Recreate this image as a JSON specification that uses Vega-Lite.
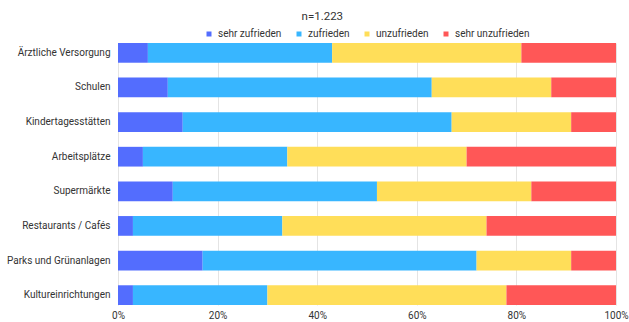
{
  "$schema": "https://vega.github.io/schema/vega-lite/v6.json",
  "width": 498,
  "height": 262,
  "autosize": {"type": "none"},
  "padding": {"left": 118, "top": 43, "right": 13, "bottom": 17},
  "background": "white",
  "title": {"text": "n=1.223", "anchor": "middle", "frame": "bounds", "fontSize": 11.5, "font": "Roboto", "fontWeight": "normal", "color": "#333333", "offset": 7, "dx": 5},
  "config": {"view": {"stroke": null}, "font": "Roboto", "legend": {"layout": {"top": {"anchor": "middle"}}}},
  "data": {"values": [
    {"Bereich": "Ärztliche Versorgung", "Bewertung": "sehr zufrieden", "Rang": 1, "Anteil": 0.06},
    {"Bereich": "Ärztliche Versorgung", "Bewertung": "zufrieden", "Rang": 2, "Anteil": 0.37},
    {"Bereich": "Ärztliche Versorgung", "Bewertung": "unzufrieden", "Rang": 3, "Anteil": 0.38},
    {"Bereich": "Ärztliche Versorgung", "Bewertung": "sehr unzufrieden", "Rang": 4, "Anteil": 0.19},
    {"Bereich": "Schulen", "Bewertung": "sehr zufrieden", "Rang": 1, "Anteil": 0.10},
    {"Bereich": "Schulen", "Bewertung": "zufrieden", "Rang": 2, "Anteil": 0.53},
    {"Bereich": "Schulen", "Bewertung": "unzufrieden", "Rang": 3, "Anteil": 0.24},
    {"Bereich": "Schulen", "Bewertung": "sehr unzufrieden", "Rang": 4, "Anteil": 0.13},
    {"Bereich": "Kindertagesstätten", "Bewertung": "sehr zufrieden", "Rang": 1, "Anteil": 0.13},
    {"Bereich": "Kindertagesstätten", "Bewertung": "zufrieden", "Rang": 2, "Anteil": 0.54},
    {"Bereich": "Kindertagesstätten", "Bewertung": "unzufrieden", "Rang": 3, "Anteil": 0.24},
    {"Bereich": "Kindertagesstätten", "Bewertung": "sehr unzufrieden", "Rang": 4, "Anteil": 0.09},
    {"Bereich": "Arbeitsplätze", "Bewertung": "sehr zufrieden", "Rang": 1, "Anteil": 0.05},
    {"Bereich": "Arbeitsplätze", "Bewertung": "zufrieden", "Rang": 2, "Anteil": 0.29},
    {"Bereich": "Arbeitsplätze", "Bewertung": "unzufrieden", "Rang": 3, "Anteil": 0.36},
    {"Bereich": "Arbeitsplätze", "Bewertung": "sehr unzufrieden", "Rang": 4, "Anteil": 0.30},
    {"Bereich": "Supermärkte", "Bewertung": "sehr zufrieden", "Rang": 1, "Anteil": 0.11},
    {"Bereich": "Supermärkte", "Bewertung": "zufrieden", "Rang": 2, "Anteil": 0.41},
    {"Bereich": "Supermärkte", "Bewertung": "unzufrieden", "Rang": 3, "Anteil": 0.31},
    {"Bereich": "Supermärkte", "Bewertung": "sehr unzufrieden", "Rang": 4, "Anteil": 0.17},
    {"Bereich": "Restaurants / Cafés", "Bewertung": "sehr zufrieden", "Rang": 1, "Anteil": 0.03},
    {"Bereich": "Restaurants / Cafés", "Bewertung": "zufrieden", "Rang": 2, "Anteil": 0.30},
    {"Bereich": "Restaurants / Cafés", "Bewertung": "unzufrieden", "Rang": 3, "Anteil": 0.41},
    {"Bereich": "Restaurants / Cafés", "Bewertung": "sehr unzufrieden", "Rang": 4, "Anteil": 0.26},
    {"Bereich": "Parks und Grünanlagen", "Bewertung": "sehr zufrieden", "Rang": 1, "Anteil": 0.17},
    {"Bereich": "Parks und Grünanlagen", "Bewertung": "zufrieden", "Rang": 2, "Anteil": 0.55},
    {"Bereich": "Parks und Grünanlagen", "Bewertung": "unzufrieden", "Rang": 3, "Anteil": 0.19},
    {"Bereich": "Parks und Grünanlagen", "Bewertung": "sehr unzufrieden", "Rang": 4, "Anteil": 0.09},
    {"Bereich": "Kultureinrichtungen", "Bewertung": "sehr zufrieden", "Rang": 1, "Anteil": 0.03},
    {"Bereich": "Kultureinrichtungen", "Bewertung": "zufrieden", "Rang": 2, "Anteil": 0.27},
    {"Bereich": "Kultureinrichtungen", "Bewertung": "unzufrieden", "Rang": 3, "Anteil": 0.48},
    {"Bereich": "Kultureinrichtungen", "Bewertung": "sehr unzufrieden", "Rang": 4, "Anteil": 0.22}
  ]},
  "mark": {"type": "bar"},
  "encoding": {
    "y": {
      "field": "Bereich", "type": "nominal",
      "sort": ["Ärztliche Versorgung", "Schulen", "Kindertagesstätten", "Arbeitsplätze", "Supermärkte", "Restaurants / Cafés", "Parks und Grünanlagen", "Kultureinrichtungen"],
      "scale": {"paddingInner": 0.43, "paddingOuter": 0},
      "axis": {"title": null, "ticks": false, "domain": false, "labelPadding": 8, "labelFontSize": 10, "labelColor": "#333333", "labelFont": "Roboto"}
    },
    "x": {
      "field": "Anteil", "type": "quantitative", "stack": "zero",
      "scale": {"domain": [0, 1], "nice": false},
      "axis": {"title": null, "format": "%", "values": [0, 0.2, 0.4, 0.6, 0.8, 1], "ticks": false, "domain": false, "labelPadding": 5, "labelFontSize": 10, "labelColor": "#333333", "labelFont": "Roboto", "gridColor": "#e4e4e4", "labelFlush": false, "labelOverlap": false}
    },
    "color": {
      "field": "Bewertung", "type": "nominal",
      "sort": ["sehr zufrieden", "zufrieden", "unzufrieden", "sehr unzufrieden"],
      "scale": {"domain": ["sehr zufrieden", "zufrieden", "unzufrieden", "sehr unzufrieden"], "range": ["#536dfe", "#38b6ff", "#ffde59", "#ff5757"]},
      "legend": {"title": null, "orient": "top", "direction": "horizontal", "symbolType": "square", "symbolSize": 25, "labelFontSize": 10, "labelColor": "#333333", "labelFont": "Roboto", "offset": 4, "columnPadding": 12, "symbolStrokeWidth": 0}
    },
    "order": {"field": "Rang", "type": "quantitative", "sort": "ascending"}
  }
}
